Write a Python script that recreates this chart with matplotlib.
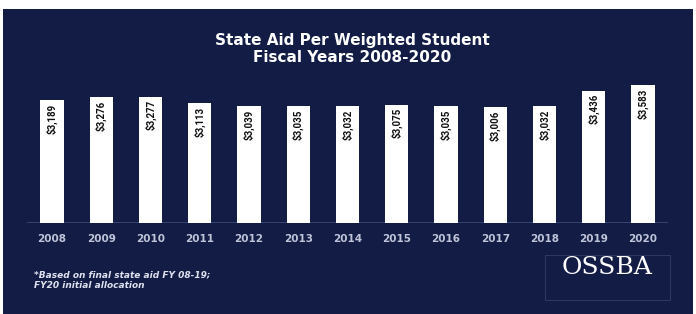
import matplotlib
matplotlib.use("Agg")
import matplotlib.pyplot as plt
from matplotlib.patches import Rectangle

years = ["2008", "2009", "2010", "2011", "2012", "2013", "2014",
         "2015", "2016", "2017", "2018", "2019", "2020"]
aid = [3189, 3276, 3277, 3113, 3039, 3035, 3032, 3075, 3035, 3006, 3032, 3436, 3583]
value_labels = ["${:,}".format(v) for v in aid]
title_lines = ["State Aid Per Weighted Student", "Fiscal Years 2008-2020"]
footnote = "*Based on final state aid FY 08-19;\nFY20 initial allocation"
logo_text = "OSSBA"

W, H = 696, 314
navy = "#121c45"

fig = plt.figure(figsize=(W / 100, H / 100), dpi=100, facecolor="white")

def fx(px):
    return px / W

def fy(py):
    return 1 - py / H

# navy slide background
fig.patches.append(Rectangle((fx(3), 0), fx(690), fy(9), transform=fig.transFigure,
                             facecolor=navy, edgecolor="none", zorder=-5))

# axes: bar centres at 52 + 49.25*i px, baseline at 222.7 px, 0.03843 px per $
step = 49.25
left_px = 52 - 0.5 * step
ymax = 4000
ax_h = ymax * 0.03843
ax = fig.add_axes([fx(left_px), fy(222.7), fx(13 * step), ax_h / H])
ax.set_zorder(2)
ax.set_facecolor("none")
x = list(range(len(years)))
ax.bar(x, aid, width=0.47, color="white", zorder=2)
ax.set_xlim(-0.5, 12.5)
ax.set_ylim(0, ymax)
for s in ax.spines.values():
    s.set_visible(False)
ax.set_yticks([])
ax.set_xticks(x)
ax.set_xticklabels(years, fontsize=7.5, color="#bfc4d8", fontfamily="DejaVu Sans",
                   fontweight="bold")
ax.tick_params(axis="x", length=0, pad=8)
ax.axhline(0, color="#3d4a78", lw=1.2, zorder=1)

for xi, v, lab in zip(x, aid, value_labels):
    ax.text(xi, v - 90, lab, rotation=90, ha="center", va="top",
            fontsize=7, fontweight="bold", color="#111111",
            fontfamily="Roboto", zorder=3)

# title
for ln, yy in zip(title_lines, [40, 58]):
    fig.text(fx(352), fy(yy), ln, ha="center", va="center", color="white",
             fontsize=11, fontfamily="DejaVu Sans", fontweight="bold")

# footnote
fig.text(fx(34), fy(280), footnote, ha="left", va="center", color="#dfe2ee",
         fontsize=6.5, fontstyle="italic", fontweight="bold", fontfamily="DejaVu Sans",
         linespacing=1.15)

# logo
fig.text(fx(607), fy(268), logo_text, ha="center", va="center", color="white",
         fontsize=18, fontfamily="DejaVu Serif")
fig.patches.append(Rectangle((fx(545), fy(300)), fx(125), 45 / H, transform=fig.transFigure,
                             facecolor="none", edgecolor="#2c3862", lw=0.8, zorder=-4))

fig.savefig("out.png", dpi=100, facecolor="white")
